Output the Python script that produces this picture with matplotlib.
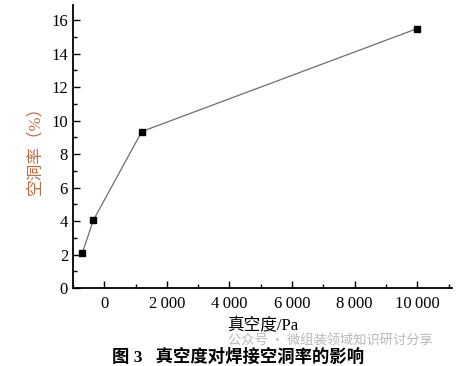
import matplotlib
matplotlib.use("Agg")
import matplotlib.pyplot as plt
from matplotlib.ticker import MultipleLocator, FuncFormatter

plt.rcParams['font.family'] = ['Liberation Serif', 'Noto Sans CJK SC']

vacuum_pa = [-700, -350, 1200, 10000]
void_rate = [2.1, 4.05, 9.35, 15.5]
x_ticks = [0, 2000, 4000, 6000, 8000, 10000]
y_ticks = [0, 2, 4, 6, 8, 10, 12, 14, 16]

fig = plt.figure(figsize=(4.59, 3.66), dpi=100)
ax = fig.add_axes([0.159, 0.213, 0.825, 0.773])

ax.plot(vacuum_pa, void_rate, color='#6e6e6e', lw=0.9, marker='s', ms=5,
        mfc='black', mec='black', zorder=3)

ax.set_xlim(-1000, 11100)
ax.set_ylim(0, 16.9)
ax.set_xticks(x_ticks)
ax.set_yticks(y_ticks)
ax.xaxis.set_minor_locator(MultipleLocator(1000))
ax.yaxis.set_minor_locator(MultipleLocator(1))
ax.xaxis.set_major_formatter(FuncFormatter(
    lambda v, p: f"{int(v):,}".replace(",", "\u2009") if v >= 1000 else f"{int(v)}"))
ax.tick_params(which='both', direction='in', labelsize=12, colors='black', width=1)
ax.tick_params(which='major', length=5)
ax.tick_params(which='minor', length=3)
ax.xaxis.set_tick_params(pad=6)
for s in ['top', 'right']:
    ax.spines[s].set_visible(False)
for s in ['left', 'bottom']:
    ax.spines[s].set_linewidth(1.3)

ax.set_ylabel('空洞率（%）', color='#bb6d42', fontsize=12, labelpad=6)
ax.set_xlabel('真空度/Pa', fontsize=12, labelpad=4)

fig.text(0.497, 0.068, '公众号 · 微组装领域知识研讨分享', color='#b8b8b8', fontsize=9.5,
         ha='left', va='center', family=['Noto Sans CJK SC'])
fig.text(0.244, 0.025, '图 3   真空度对焊接空洞率的影响', fontsize=12.5, fontweight='bold',
         ha='left', va='center')

fig.savefig('out.png', dpi=100)
